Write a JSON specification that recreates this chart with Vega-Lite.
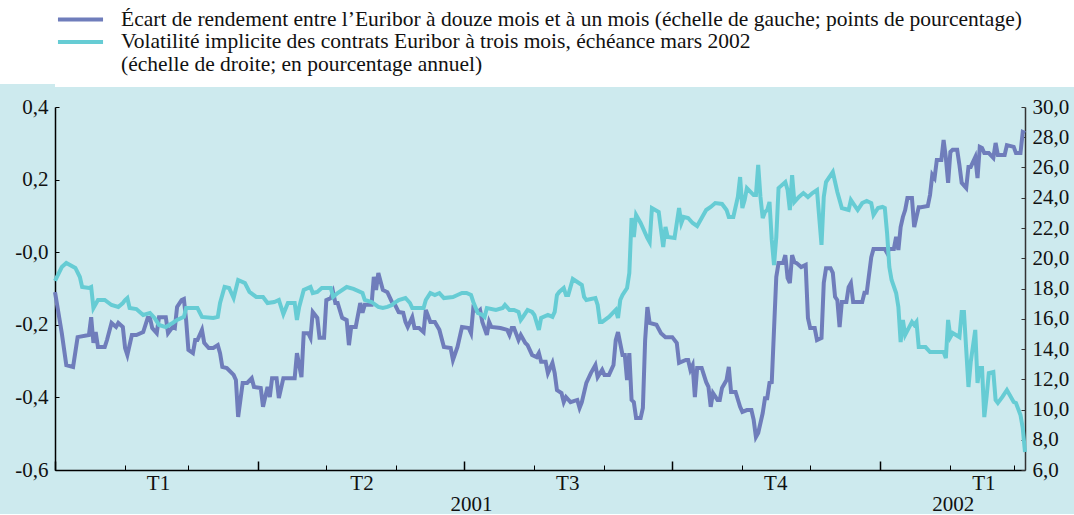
{
  "$schema": "https://vega.github.io/schema/vega-lite/v6.json",
  "background": "#cdeaee",
  "padding": 0,
  "spacing": 9,
  "columns": 1,
  "align": "none",
  "config": {
    "view": {"stroke": null},
    "font": "Liberation Serif",
    "axis": {"labelFont": "Liberation Serif", "labelFontSize": 21, "labelColor": "#111111", "domainColor": "#000000", "tickColor": "#000000", "grid": false, "title": null, "labelFlush": false, "labelOverlap": false, "labelBound": false},
    "legend": {"labelFont": "Liberation Serif"}
  },
  "datasets": {
    "spread": [
      {"date":"2001-01-01","value":-0.110},{"date":"2001-01-04","value":-0.223},{"date":"2001-01-06","value":-0.311},{"date":"2001-01-09","value":-0.316},{"date":"2001-01-11","value":-0.234},{"date":"2001-01-16","value":-0.228},{"date":"2001-01-17","value":-0.179},{"date":"2001-01-18","value":-0.250},{"date":"2001-01-19","value":-0.220},{"date":"2001-01-20","value":-0.261},{"date":"2001-01-23","value":-0.261},{"date":"2001-01-24","value":-0.242},{"date":"2001-01-26","value":-0.195},{"date":"2001-01-28","value":-0.206},{"date":"2001-01-29","value":-0.195},{"date":"2001-01-31","value":-0.206},
      {"date":"2001-02-01","value":-0.264},{"date":"2001-02-02","value":-0.283},{"date":"2001-02-04","value":-0.228},{"date":"2001-02-06","value":-0.228},{"date":"2001-02-09","value":-0.220},{"date":"2001-02-11","value":-0.181},{"date":"2001-02-12","value":-0.181},{"date":"2001-02-13","value":-0.209},{"date":"2001-02-15","value":-0.223},{"date":"2001-02-16","value":-0.179},{"date":"2001-02-19","value":-0.179},{"date":"2001-02-20","value":-0.223},{"date":"2001-02-22","value":-0.206},{"date":"2001-02-23","value":-0.209},{"date":"2001-02-24","value":-0.151},{"date":"2001-02-26","value":-0.132},{"date":"2001-02-27","value":-0.129},{"date":"2001-02-28","value":-0.187},
      {"date":"2001-03-01","value":-0.269},{"date":"2001-03-03","value":-0.278},{"date":"2001-03-04","value":-0.242},{"date":"2001-03-05","value":-0.242},{"date":"2001-03-07","value":-0.214},{"date":"2001-03-08","value":-0.250},{"date":"2001-03-10","value":-0.264},{"date":"2001-03-12","value":-0.264},{"date":"2001-03-14","value":-0.256},{"date":"2001-03-15","value":-0.278},{"date":"2001-03-16","value":-0.316},{"date":"2001-03-18","value":-0.319},{"date":"2001-03-21","value":-0.338},{"date":"2001-03-22","value":-0.352},{"date":"2001-03-23","value":-0.454},{"date":"2001-03-25","value":-0.360},{"date":"2001-03-27","value":-0.360},{"date":"2001-03-29","value":-0.347},{"date":"2001-03-30","value":-0.371},
      {"date":"2001-04-02","value":-0.374},{"date":"2001-04-03","value":-0.426},{"date":"2001-04-05","value":-0.371},{"date":"2001-04-06","value":-0.399},{"date":"2001-04-07","value":-0.347},{"date":"2001-04-09","value":-0.347},{"date":"2001-04-10","value":-0.402},{"date":"2001-04-12","value":-0.347},{"date":"2001-04-15","value":-0.347},{"date":"2001-04-17","value":-0.347},{"date":"2001-04-18","value":-0.278},{"date":"2001-04-20","value":-0.344},{"date":"2001-04-21","value":-0.223},{"date":"2001-04-23","value":-0.223},{"date":"2001-04-24","value":-0.236},{"date":"2001-04-25","value":-0.165},{"date":"2001-04-27","value":-0.181},{"date":"2001-04-28","value":-0.236},{"date":"2001-04-30","value":-0.236},
      {"date":"2001-05-01","value":-0.132},{"date":"2001-05-03","value":-0.126},{"date":"2001-05-04","value":-0.110},{"date":"2001-05-05","value":-0.140},{"date":"2001-05-06","value":-0.140},{"date":"2001-05-08","value":-0.181},{"date":"2001-05-10","value":-0.187},{"date":"2001-05-11","value":-0.256},{"date":"2001-05-12","value":-0.206},{"date":"2001-05-14","value":-0.206},{"date":"2001-05-16","value":-0.140},{"date":"2001-05-17","value":-0.167},{"date":"2001-05-18","value":-0.145},{"date":"2001-05-21","value":-0.145},{"date":"2001-05-22","value":-0.068},{"date":"2001-05-23","value":-0.104},{"date":"2001-05-24","value":-0.057},{"date":"2001-05-26","value":-0.104},{"date":"2001-05-28","value":-0.110},{"date":"2001-05-30","value":-0.137},{"date":"2001-05-31","value":-0.140},
      {"date":"2001-06-02","value":-0.165},{"date":"2001-06-04","value":-0.167},{"date":"2001-06-05","value":-0.192},{"date":"2001-06-06","value":-0.206},{"date":"2001-06-08","value":-0.179},{"date":"2001-06-09","value":-0.209},{"date":"2001-06-11","value":-0.209},{"date":"2001-06-13","value":-0.220},{"date":"2001-06-14","value":-0.159},{"date":"2001-06-16","value":-0.192},{"date":"2001-06-18","value":-0.192},{"date":"2001-06-20","value":-0.214},{"date":"2001-06-22","value":-0.261},{"date":"2001-06-25","value":-0.264},{"date":"2001-06-26","value":-0.297},{"date":"2001-06-28","value":-0.261},{"date":"2001-06-30","value":-0.206},
      {"date":"2001-07-03","value":-0.209},{"date":"2001-07-04","value":-0.223},{"date":"2001-07-05","value":-0.154},{"date":"2001-07-07","value":-0.165},{"date":"2001-07-08","value":-0.159},{"date":"2001-07-09","value":-0.192},{"date":"2001-07-11","value":-0.228},{"date":"2001-07-12","value":-0.192},{"date":"2001-07-13","value":-0.206},{"date":"2001-07-17","value":-0.209},{"date":"2001-07-20","value":-0.214},{"date":"2001-07-21","value":-0.228},{"date":"2001-07-22","value":-0.209},{"date":"2001-07-23","value":-0.209},{"date":"2001-07-25","value":-0.242},{"date":"2001-07-26","value":-0.228},{"date":"2001-07-28","value":-0.250},{"date":"2001-07-29","value":-0.256},{"date":"2001-07-31","value":-0.283},
      {"date":"2001-08-02","value":-0.289},{"date":"2001-08-03","value":-0.278},{"date":"2001-08-04","value":-0.302},{"date":"2001-08-06","value":-0.302},{"date":"2001-08-07","value":-0.333},{"date":"2001-08-09","value":-0.305},{"date":"2001-08-10","value":-0.333},{"date":"2001-08-11","value":-0.380},{"date":"2001-08-13","value":-0.388},{"date":"2001-08-14","value":-0.413},{"date":"2001-08-15","value":-0.399},{"date":"2001-08-17","value":-0.413},{"date":"2001-08-20","value":-0.407},{"date":"2001-08-21","value":-0.429},{"date":"2001-08-22","value":-0.413},{"date":"2001-08-24","value":-0.360},{"date":"2001-08-26","value":-0.333},{"date":"2001-08-28","value":-0.311},{"date":"2001-08-29","value":-0.344},{"date":"2001-08-31","value":-0.324},
      {"date":"2001-09-01","value":-0.338},{"date":"2001-09-03","value":-0.338},{"date":"2001-09-05","value":-0.311},{"date":"2001-09-06","value":-0.242},{"date":"2001-09-07","value":-0.220},{"date":"2001-09-09","value":-0.283},{"date":"2001-09-10","value":-0.283},{"date":"2001-09-11","value":-0.352},{"date":"2001-09-12","value":-0.278},{"date":"2001-09-13","value":-0.407},{"date":"2001-09-14","value":-0.413},{"date":"2001-09-15","value":-0.457},{"date":"2001-09-17","value":-0.457},{"date":"2001-09-18","value":-0.429},{"date":"2001-09-19","value":-0.242},{"date":"2001-09-20","value":-0.151},{"date":"2001-09-21","value":-0.195},{"date":"2001-09-24","value":-0.200},{"date":"2001-09-26","value":-0.223},{"date":"2001-09-28","value":-0.234},
      {"date":"2001-10-01","value":-0.234},{"date":"2001-10-03","value":-0.250},{"date":"2001-10-04","value":-0.305},{"date":"2001-10-07","value":-0.297},{"date":"2001-10-08","value":-0.297},{"date":"2001-10-09","value":-0.324},{"date":"2001-10-10","value":-0.311},{"date":"2001-10-11","value":-0.399},{"date":"2001-10-12","value":-0.319},{"date":"2001-10-14","value":-0.319},{"date":"2001-10-16","value":-0.358},{"date":"2001-10-17","value":-0.371},{"date":"2001-10-18","value":-0.426},{"date":"2001-10-19","value":-0.388},{"date":"2001-10-21","value":-0.407},{"date":"2001-10-22","value":-0.407},{"date":"2001-10-23","value":-0.374},{"date":"2001-10-25","value":-0.352},{"date":"2001-10-26","value":-0.316},{"date":"2001-10-27","value":-0.385},{"date":"2001-10-29","value":-0.385},{"date":"2001-10-31","value":-0.426},
      {"date":"2001-11-01","value":-0.440},{"date":"2001-11-03","value":-0.435},{"date":"2001-11-05","value":-0.435},{"date":"2001-11-06","value":-0.462},{"date":"2001-11-07","value":-0.509},{"date":"2001-11-08","value":-0.498},{"date":"2001-11-10","value":-0.443},{"date":"2001-11-11","value":-0.402},{"date":"2001-11-12","value":-0.402},{"date":"2001-11-13","value":-0.360},{"date":"2001-11-14","value":-0.358},{"date":"2001-11-16","value":-0.068},{"date":"2001-11-17","value":-0.030},{"date":"2001-11-19","value":-0.030},{"date":"2001-11-20","value":-0.008},{"date":"2001-11-21","value":-0.071},{"date":"2001-11-22","value":-0.085},{"date":"2001-11-23","value":-0.008},{"date":"2001-11-24","value":-0.027},{"date":"2001-11-25","value":-0.030},{"date":"2001-11-27","value":-0.041},{"date":"2001-11-29","value":-0.035},{"date":"2001-11-30","value":-0.181},
      {"date":"2001-12-01","value":-0.209},{"date":"2001-12-03","value":-0.209},{"date":"2001-12-04","value":-0.242},{"date":"2001-12-06","value":-0.236},{"date":"2001-12-07","value":-0.085},{"date":"2001-12-08","value":-0.044},{"date":"2001-12-10","value":-0.044},{"date":"2001-12-11","value":-0.057},{"date":"2001-12-12","value":-0.123},{"date":"2001-12-13","value":-0.132},{"date":"2001-12-14","value":-0.206},{"date":"2001-12-15","value":-0.137},{"date":"2001-12-17","value":-0.137},{"date":"2001-12-18","value":-0.096},{"date":"2001-12-19","value":-0.085},{"date":"2001-12-20","value":-0.137},{"date":"2001-12-22","value":-0.137},{"date":"2001-12-24","value":-0.137},{"date":"2001-12-25","value":-0.112},{"date":"2001-12-26","value":-0.112},{"date":"2001-12-28","value":-0.014},{"date":"2001-12-29","value":0.009},
      {"date":"2002-01-01","value":0.009},{"date":"2002-01-03","value":0.009},{"date":"2002-01-04","value":-0.002},{"date":"2002-01-05","value":0.009},{"date":"2002-01-07","value":0.009},{"date":"2002-01-08","value":0.042},{"date":"2002-01-09","value":0.006},{"date":"2002-01-10","value":0.069},{"date":"2002-01-11","value":0.097},{"date":"2002-01-12","value":0.116},{"date":"2002-01-13","value":0.149},{"date":"2002-01-15","value":0.149},{"date":"2002-01-16","value":0.069},{"date":"2002-01-17","value":0.097},{"date":"2002-01-18","value":0.124},{"date":"2002-01-19","value":0.124},{"date":"2002-01-22","value":0.127},{"date":"2002-01-23","value":0.158},{"date":"2002-01-24","value":0.213},{"date":"2002-01-25","value":0.204},{"date":"2002-01-26","value":0.254},{"date":"2002-01-28","value":0.254},{"date":"2002-01-29","value":0.309},{"date":"2002-01-30","value":0.260},{"date":"2002-01-31","value":0.191},
      {"date":"2002-02-01","value":0.276},{"date":"2002-02-02","value":0.282},{"date":"2002-02-04","value":0.282},{"date":"2002-02-05","value":0.240},{"date":"2002-02-06","value":0.191},{"date":"2002-02-08","value":0.177},{"date":"2002-02-09","value":0.235},{"date":"2002-02-10","value":0.235},{"date":"2002-02-12","value":0.262},{"date":"2002-02-13","value":0.204},{"date":"2002-02-14","value":0.290},{"date":"2002-02-15","value":0.287},{"date":"2002-02-16","value":0.273},{"date":"2002-02-18","value":0.273},{"date":"2002-02-20","value":0.260},{"date":"2002-02-21","value":0.301},{"date":"2002-02-22","value":0.268},{"date":"2002-02-25","value":0.268},{"date":"2002-02-26","value":0.295},
      {"date":"2002-03-01","value":0.290},{"date":"2002-03-02","value":0.273},{"date":"2002-03-04","value":0.273},{"date":"2002-03-05","value":0.331},{"date":"2002-03-06","value":0.328}
    ],
    "vol": [
      {"date":"2001-01-01","value":18.50},{"date":"2001-01-04","value":19.42},{"date":"2001-01-06","value":19.69},{"date":"2001-01-10","value":19.36},{"date":"2001-01-12","value":18.76},{"date":"2001-01-13","value":18.10},{"date":"2001-01-16","value":18.03},{"date":"2001-01-17","value":18.10},{"date":"2001-01-18","value":16.71},{"date":"2001-01-20","value":17.24},{"date":"2001-01-23","value":17.24},{"date":"2001-01-26","value":16.91},{"date":"2001-01-29","value":16.78},{"date":"2001-01-31","value":17.04},
      {"date":"2001-02-01","value":17.24},{"date":"2001-02-02","value":17.37},{"date":"2001-02-03","value":16.71},{"date":"2001-02-06","value":16.64},{"date":"2001-02-09","value":16.25},{"date":"2001-02-12","value":16.38},{"date":"2001-02-14","value":16.05},{"date":"2001-02-16","value":15.59},{"date":"2001-02-19","value":15.45},{"date":"2001-02-22","value":15.72},{"date":"2001-02-24","value":15.92},{"date":"2001-02-27","value":16.12},{"date":"2001-02-28","value":16.71},
      {"date":"2001-03-03","value":16.71},{"date":"2001-03-05","value":16.71},{"date":"2001-03-07","value":16.12},{"date":"2001-03-12","value":16.05},{"date":"2001-03-14","value":16.12},{"date":"2001-03-15","value":17.04},{"date":"2001-03-17","value":18.10},{"date":"2001-03-19","value":18.03},{"date":"2001-03-21","value":17.37},{"date":"2001-03-23","value":18.56},{"date":"2001-03-26","value":18.36},{"date":"2001-03-28","value":17.77},{"date":"2001-03-31","value":17.44},
      {"date":"2001-04-03","value":17.44},{"date":"2001-04-05","value":17.04},{"date":"2001-04-08","value":17.11},{"date":"2001-04-10","value":17.24},{"date":"2001-04-12","value":16.31},{"date":"2001-04-14","value":17.04},{"date":"2001-04-17","value":17.04},{"date":"2001-04-18","value":15.92},{"date":"2001-04-19","value":16.78},{"date":"2001-04-21","value":17.90},{"date":"2001-04-24","value":18.10},{"date":"2001-04-25","value":17.70},{"date":"2001-04-27","value":17.77},{"date":"2001-04-29","value":18.03},
      {"date":"2001-05-03","value":18.03},{"date":"2001-05-04","value":17.44},{"date":"2001-05-06","value":17.70},{"date":"2001-05-10","value":18.10},{"date":"2001-05-13","value":17.97},{"date":"2001-05-17","value":17.70},{"date":"2001-05-18","value":17.24},{"date":"2001-05-21","value":17.11},{"date":"2001-05-24","value":16.78},{"date":"2001-05-26","value":16.71},{"date":"2001-05-28","value":16.78},{"date":"2001-05-30","value":16.91},{"date":"2001-05-31","value":17.04},
      {"date":"2001-06-02","value":17.24},{"date":"2001-06-05","value":17.37},{"date":"2001-06-07","value":17.04},{"date":"2001-06-08","value":16.71},{"date":"2001-06-11","value":16.71},{"date":"2001-06-13","value":16.71},{"date":"2001-06-14","value":17.24},{"date":"2001-06-16","value":17.70},{"date":"2001-06-18","value":17.57},{"date":"2001-06-20","value":17.70},{"date":"2001-06-22","value":17.37},{"date":"2001-06-26","value":17.44},{"date":"2001-06-28","value":17.57},{"date":"2001-06-30","value":17.70},
      {"date":"2001-07-02","value":17.70},{"date":"2001-07-04","value":17.57},{"date":"2001-07-05","value":17.11},{"date":"2001-07-07","value":16.38},{"date":"2001-07-09","value":16.25},{"date":"2001-07-10","value":16.12},{"date":"2001-07-11","value":16.71},{"date":"2001-07-15","value":16.58},{"date":"2001-07-18","value":16.71},{"date":"2001-07-19","value":16.91},{"date":"2001-07-21","value":16.58},{"date":"2001-07-23","value":16.58},{"date":"2001-07-25","value":16.45},{"date":"2001-07-26","value":15.92},{"date":"2001-07-27","value":16.12},{"date":"2001-07-29","value":16.58},{"date":"2001-07-31","value":16.45},
      {"date":"2001-08-01","value":16.25},{"date":"2001-08-03","value":15.26},{"date":"2001-08-04","value":16.05},{"date":"2001-08-07","value":16.25},{"date":"2001-08-09","value":16.12},{"date":"2001-08-10","value":16.45},{"date":"2001-08-11","value":17.57},{"date":"2001-08-12","value":17.77},{"date":"2001-08-14","value":18.03},{"date":"2001-08-15","value":17.57},{"date":"2001-08-16","value":17.57},{"date":"2001-08-18","value":18.63},{"date":"2001-08-20","value":18.43},{"date":"2001-08-22","value":18.23},{"date":"2001-08-23","value":17.44},{"date":"2001-08-24","value":17.24},{"date":"2001-08-28","value":17.37},{"date":"2001-08-29","value":16.91},{"date":"2001-08-30","value":15.79},{"date":"2001-08-31","value":15.79},
      {"date":"2001-09-03","value":16.12},{"date":"2001-09-06","value":16.58},{"date":"2001-09-07","value":16.05},{"date":"2001-09-08","value":17.24},{"date":"2001-09-09","value":17.57},{"date":"2001-09-11","value":18.03},{"date":"2001-09-12","value":19.02},{"date":"2001-09-13","value":22.66},{"date":"2001-09-14","value":21.40},{"date":"2001-09-15","value":22.86},{"date":"2001-09-17","value":22.33},{"date":"2001-09-20","value":21.34},{"date":"2001-09-21","value":21.07},{"date":"2001-09-22","value":23.32},{"date":"2001-09-25","value":23.06},{"date":"2001-09-27","value":20.74},{"date":"2001-09-28","value":22.07},{"date":"2001-09-29","value":21.40},
      {"date":"2001-10-02","value":21.34},{"date":"2001-10-04","value":23.32},{"date":"2001-10-05","value":22.33},{"date":"2001-10-06","value":22.73},{"date":"2001-10-08","value":22.66},{"date":"2001-10-10","value":22.33},{"date":"2001-10-12","value":22.13},{"date":"2001-10-14","value":22.66},{"date":"2001-10-16","value":23.19},{"date":"2001-10-18","value":23.39},{"date":"2001-10-20","value":23.65},{"date":"2001-10-23","value":23.59},{"date":"2001-10-25","value":23.19},{"date":"2001-10-26","value":22.73},{"date":"2001-10-28","value":22.73},{"date":"2001-10-30","value":24.05},{"date":"2001-10-31","value":25.37},
      {"date":"2001-11-01","value":23.32},{"date":"2001-11-02","value":23.85},{"date":"2001-11-03","value":24.64},{"date":"2001-11-06","value":24.18},{"date":"2001-11-07","value":24.18},{"date":"2001-11-08","value":26.17},{"date":"2001-11-09","value":24.05},{"date":"2001-11-10","value":22.66},{"date":"2001-11-11","value":23.06},{"date":"2001-11-12","value":23.19},{"date":"2001-11-13","value":23.72},{"date":"2001-11-14","value":21.21},{"date":"2001-11-15","value":19.55},{"date":"2001-11-16","value":21.40},{"date":"2001-11-17","value":24.64},{"date":"2001-11-20","value":25.04},{"date":"2001-11-21","value":24.51},{"date":"2001-11-22","value":23.19},{"date":"2001-11-23","value":25.50},{"date":"2001-11-24","value":23.72},{"date":"2001-11-26","value":24.05},{"date":"2001-11-28","value":24.31},{"date":"2001-11-30","value":24.05},
      {"date":"2001-12-02","value":24.31},{"date":"2001-12-04","value":24.51},{"date":"2001-12-06","value":20.88},{"date":"2001-12-07","value":24.05},{"date":"2001-12-08","value":25.04},{"date":"2001-12-11","value":25.70},{"date":"2001-12-13","value":24.38},{"date":"2001-12-15","value":23.32},{"date":"2001-12-18","value":23.19},{"date":"2001-12-19","value":23.85},{"date":"2001-12-22","value":23.19},{"date":"2001-12-24","value":23.65},{"date":"2001-12-26","value":23.79},{"date":"2001-12-28","value":23.65},{"date":"2001-12-29","value":22.86},{"date":"2001-12-31","value":23.32},
      {"date":"2002-01-02","value":23.39},{"date":"2002-01-03","value":23.32},{"date":"2002-01-04","value":21.67},{"date":"2002-01-05","value":19.42},{"date":"2002-01-06","value":18.56},{"date":"2002-01-08","value":17.70},{"date":"2002-01-09","value":16.78},{"date":"2002-01-10","value":14.46},{"date":"2002-01-11","value":15.92},{"date":"2002-01-12","value":14.93},{"date":"2002-01-15","value":15.79},{"date":"2002-01-16","value":15.59},{"date":"2002-01-17","value":15.79},{"date":"2002-01-18","value":14.13},{"date":"2002-01-21","value":14.13},{"date":"2002-01-23","value":13.80},{"date":"2002-01-29","value":13.80},{"date":"2002-01-30","value":13.40},{"date":"2002-01-31","value":15.92},
      {"date":"2002-02-01","value":14.79},{"date":"2002-02-02","value":15.06},{"date":"2002-02-05","value":14.79},{"date":"2002-02-06","value":16.45},{"date":"2002-02-07","value":16.45},{"date":"2002-02-09","value":11.49},{"date":"2002-02-10","value":13.14},{"date":"2002-02-12","value":15.26},{"date":"2002-02-13","value":11.75},{"date":"2002-02-14","value":12.74},{"date":"2002-02-15","value":12.74},{"date":"2002-02-16","value":9.50},{"date":"2002-02-17","value":10.83},{"date":"2002-02-18","value":12.41},{"date":"2002-02-20","value":12.48},{"date":"2002-02-21","value":10.63},{"date":"2002-02-22","value":10.43},{"date":"2002-02-24","value":10.83},{"date":"2002-02-26","value":11.29},
      {"date":"2002-03-01","value":10.50},{"date":"2002-03-02","value":10.43},{"date":"2002-03-04","value":9.64},{"date":"2002-03-05","value":8.78},{"date":"2002-03-06","value":7.19}
    ]
  },
  "concat": [
    {
      "width": 1074,
      "height": 87,
      "view": {"fill": "#ffffff", "stroke": null},
      "data": {"values": [
        {"serie": "Écart de rendement entre l’Euribor à douze mois et à un mois (échelle de gauche; points de pourcentage)"},
        {"serie": "Volatilité implicite des contrats Euribor à trois mois, échéance mars 2002"},
        {"serie": "(échelle de droite; en pourcentage annuel)"}
      ]},
      "mark": {"type": "point", "opacity": 0},
      "encoding": {
        "color": {
          "field": "serie",
          "type": "nominal",
          "scale": {
            "domain": [
              "Écart de rendement entre l’Euribor à douze mois et à un mois (échelle de gauche; points de pourcentage)",
              "Volatilité implicite des contrats Euribor à trois mois, échéance mars 2002",
              "(échelle de droite; en pourcentage annuel)"
            ],
            "range": ["#6f7dbb", "#66ccd4", "transparent"]
          },
          "legend": {
            "title": null,
            "orient": "none",
            "legendX": -55,
            "legendY": 0,
            "padding": 8.75,
            "fillColor": "#ffffff",
            "symbolType": "M-4,0H4",
            "symbolSize": 127,
            "symbolStrokeWidth": 4,
            "symbolOpacity": 1,
            "symbolOffset": 61,
            "labelFont": "Liberation Serif",
            "labelFontSize": 21.5,
            "labelColor": "#111111",
            "labelLimit": 1100,
            "labelOffset": 29.75,
            "rowPadding": -0.5
          }
        }
      }
    },
    {
      "width": 970,
      "height": 363,
      "layer": [
        {
          "data": {"name": "spread"},
          "mark": {"type": "line", "color": "#6f7dbb", "strokeWidth": 4},
          "encoding": {
            "x": {
              "field": "date", "type": "temporal",
              "scale": {"type": "utc", "domain": [{"year": 2001, "month": 1, "date": 1, "utc": true}, {"year": 2002, "month": 3, "date": 6, "utc": true}]},
              "axis": {
                "orient": "bottom",
                "values": [
                  {"year": 2001, "month": 1, "date": 1, "utc": true}, {"year": 2001, "month": 2, "date": 1, "utc": true}, {"year": 2001, "month": 3, "date": 1, "utc": true},
                  {"year": 2001, "month": 4, "date": 1, "utc": true}, {"year": 2001, "month": 5, "date": 1, "utc": true}, {"year": 2001, "month": 6, "date": 1, "utc": true},
                  {"year": 2001, "month": 7, "date": 1, "utc": true}, {"year": 2001, "month": 8, "date": 1, "utc": true}, {"year": 2001, "month": 9, "date": 1, "utc": true},
                  {"year": 2001, "month": 10, "date": 1, "utc": true}, {"year": 2001, "month": 11, "date": 1, "utc": true}, {"year": 2001, "month": 12, "date": 1, "utc": true},
                  {"year": 2002, "month": 1, "date": 1, "utc": true}, {"year": 2002, "month": 2, "date": 1, "utc": true}, {"year": 2002, "month": 3, "date": 1, "utc": true}
                ],
                "labels": false,
                "tickSize": -5,
                "tickWidth": 1,
                "domainWidth": 1.5
              }
            },
            "y": {
              "field": "value", "type": "quantitative",
              "scale": {"domain": [-0.6, 0.4], "nice": false, "zero": false},
              "axis": {
                "orient": "left",
                "values": [-0.6, -0.4, -0.2, 0, 0.2, 0.4],
                "labelExpr": "datum.value == 0 ? '-0,0' : (datum.value < 0 ? '-' : '') + replace(format(abs(datum.value), '.1f'), '.', ',')",
                "tickSize": -4,
                "tickWidth": 1,
                "labelPadding": 11,
                "domainWidth": 1.5,
                "minExtent": 55
              }
            }
          }
        },
        {
          "data": {"name": "vol"},
          "mark": {"type": "line", "color": "#66ccd4", "strokeWidth": 4},
          "encoding": {
            "x": {
              "field": "date", "type": "temporal",
              "axis": {
                "orient": "bottom",
                "values": [
                  {"year": 2001, "month": 1, "date": 1, "utc": true}, {"year": 2001, "month": 4, "date": 1, "utc": true},
                  {"year": 2001, "month": 7, "date": 1, "utc": true}, {"year": 2001, "month": 10, "date": 1, "utc": true},
                  {"year": 2002, "month": 1, "date": 1, "utc": true}
                ],
                "labelExpr": "'T' + (floor(utcmonth(datum.value) / 3) + 1)",
                "domain": false,
                "tickSize": -9,
                "tickWidth": 1.5,
                "labelOffset": 103,
                "labelPadding": 11
              }
            },
            "y": {
              "field": "value", "type": "quantitative",
              "scale": {"domain": [6, 30], "nice": false, "zero": false},
              "axis": {
                "orient": "right",
                "values": [6, 8, 10, 12, 14, 16, 18, 20, 22, 24, 26, 28, 30],
                "labelExpr": "replace(format(datum.value, '.1f'), '.', ',')",
                "tickSize": -4,
                "tickWidth": 1,
                "labelPadding": 11,
                "domainWidth": 1.5,
                "domainColor": "#333333",
                "tickColor": "#333333"
              }
            }
          }
        },
        {
          "data": {"name": "spread"},
          "mark": {"type": "rule", "opacity": 0},
          "encoding": {
            "x": {
              "field": "date", "type": "temporal",
              "axis": {
                "orient": "bottom",
                "values": [{"year": 2001, "month": 7, "date": 4, "utc": true}, {"year": 2002, "month": 2, "date": 2, "utc": true}],
                "labelExpr": "utcFormat(datum.value, '%Y')",
                "domain": false,
                "ticks": false,
                "labelPadding": 23
              }
            }
          }
        }
      ],
      "resolve": {"scale": {"y": "independent"}, "axis": {"x": "independent", "y": "independent"}}
    }
  ]
}
